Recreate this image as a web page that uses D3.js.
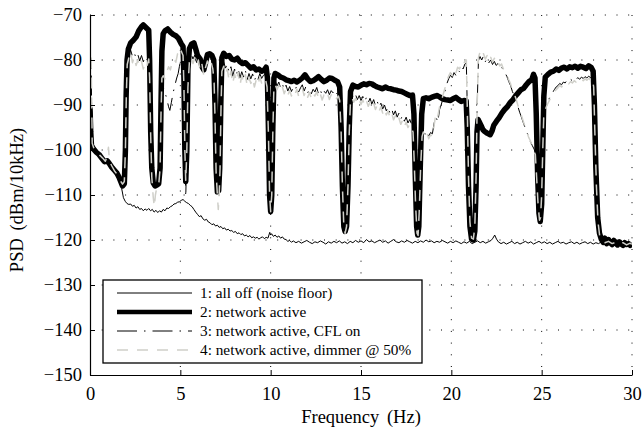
<!DOCTYPE html>
<html>
<head>
<meta charset="utf-8">
<script src="https://cdn.jsdelivr.net/npm/d3@7"></script>
<style>
  body { margin: 0; background: #fff; }
  svg text { font-family: "Liberation Serif", "Times New Roman", Times, serif; fill: #000; }
</style>
</head>
<body>
<div id="chart"></div>
<script>
// PSD traces, [frequency (Hz), PSD (dBm/10kHz)]
noiseFloor = [
  [0,-91.5],[0.03,-96],[0.06,-99.2],[0.15,-99.8],[0.25,-100.4],[0.35,-100.2],[0.45,-101],[0.55,-101.6],[0.65,-101.4],[0.75,-102.3],
  [0.85,-102.8],[0.95,-102.5],[1.05,-103.3],[1.15,-104],[1.25,-104.2],[1.35,-104.9],[1.45,-105.6],[1.55,-106.4],[1.65,-107.2],[1.75,-108.5],
  [1.85,-110.6],[1.95,-111.4],[2.05,-111.9],[2.15,-112.1],[2.25,-112],[2.35,-112.5],[2.45,-112.3],[2.55,-112.9],[2.65,-112.6],[2.75,-113.2],
  [2.85,-113],[2.95,-113.5],[3.05,-113.1],[3.15,-113.4],[3.25,-113],[3.35,-113.5],[3.45,-113.2],[3.55,-113.8],[3.65,-113.4],[3.75,-113.9],
  [3.85,-113.5],[3.95,-113.8],[4.05,-113.2],[4.15,-113.5],[4.25,-112.9],[4.35,-113],[4.45,-112.6],[4.55,-112.4],[4.65,-112],[4.75,-111.9],
  [4.85,-111.6],[4.95,-111.5],[5.05,-111.2],[5.15,-111],[5.25,-111.4],[5.35,-111.7],[5.45,-111.9],[5.55,-112.3],[5.65,-112.6],[5.75,-113.2],
  [5.85,-113.8],[5.95,-114.3],[6.05,-114.8],[6.15,-114.6],[6.25,-115.3],[6.35,-115.6],[6.45,-115.4],[6.55,-116],[6.65,-116.2],[6.75,-116.6],
  [6.85,-116.4],[6.95,-116.9],[7.05,-116.7],[7.15,-117.2],[7.25,-117],[7.35,-117.5],[7.45,-117.3],[7.55,-117.8],[7.65,-117.6],[7.75,-118],
  [7.85,-117.9],[7.95,-118.3],[8.05,-118.1],[8.15,-118.6],[8.25,-118.4],[8.35,-118.8],[8.45,-118.6],[8.55,-119.1],[8.65,-118.9],[8.75,-119.3],
  [8.85,-119],[8.95,-119.5],[9.05,-119.3],[9.15,-119.6],[9.25,-119.4],[9.35,-119.8],[9.45,-119.5],[9.55,-119.3],[9.65,-119.7],[9.75,-119.4],
  [9.85,-119.6],[9.95,-118.3],[10,-118.9],[10.05,-118.6],[10.15,-119.2],[10.25,-118.9],[10.35,-119.4],[10.45,-119.1],[10.55,-119.6],[10.65,-119.3],
  [10.75,-119.8],[10.85,-119.9],[10.95,-120.3],[11.05,-120.1],[11.15,-120.5],[11.25,-120.2],[11.4,-120.6],[11.55,-120.3],[11.7,-120.7],[11.85,-120.4],
  [12,-120.1],[12.15,-120.5],[12.3,-120.8],[12.45,-120.4],[12.6,-120.6],[12.75,-120.2],[12.9,-120.5],[13.05,-120.9],[13.2,-120.4],[13.35,-120.7],
  [13.5,-120.3],[13.65,-120.6],[13.8,-120.2],[13.95,-120.7],[14.1,-120.4],[14.25,-120.8],[14.4,-120.3],[14.55,-120.6],[14.7,-120.1],[14.85,-120.5],
  [15,-120.2],[15.15,-120.6],[15.3,-119.9],[15.45,-120.4],[15.6,-120.2],[15.75,-120.6],[15.9,-120.3],[16.05,-120],[16.2,-120.5],[16.35,-120.2],
  [16.5,-120.7],[16.65,-120.3],[16.8,-119.9],[16.95,-120.4],[17.1,-120.6],[17.25,-120.2],[17.4,-120.5],[17.55,-120.1],[17.7,-120.4],[17.85,-120.7],
  [18,-120.3],[18.15,-120.6],[18.3,-120.2],[18.45,-120.5],[18.6,-120],[18.75,-120.4],[18.9,-120.2],[19.05,-120.6],[19.2,-120.3],[19.35,-120.5],
  [19.5,-120.1],[19.65,-120.4],[19.8,-120.7],[19.95,-120.3],[20.1,-120.6],[20.25,-120.2],[20.4,-120.5],[20.55,-120.8],[20.7,-120.4],[20.85,-120.7],
  [21,-120.3],[21.15,-120.8],[21.3,-120.5],[21.45,-120.2],[21.6,-120.6],[21.75,-120.3],[21.9,-120.7],[22.05,-120.4],[22.2,-120.1],[22.3,-119.6],
  [22.4,-118.9],[22.5,-119.8],[22.6,-120.4],[22.75,-120.8],[22.9,-120.5],[23.05,-120.9],[23.2,-120.6],[23.35,-120.3],[23.5,-120.8],[23.65,-120.5],
  [23.8,-120.9],[23.95,-120.6],[24.1,-120.3],[24.25,-120.7],[24.4,-120.4],[24.55,-120.9],[24.7,-120.6],[24.85,-120.3],[25,-120.7],[25.15,-120.4],
  [25.3,-120.8],[25.45,-120.5],[25.6,-120.9],[25.75,-120.6],[25.9,-120.3],[26.05,-120.7],[26.2,-120.5],[26.35,-120.9],[26.5,-120.6],[26.65,-120.4],
  [26.8,-120.8],[26.95,-120.5],[27.1,-120.9],[27.25,-120.6],[27.4,-120.4],[27.55,-120.8],[27.7,-120.5],[27.85,-120.9],[28,-120.6],[28.15,-120.8],
  [28.3,-120.4],[28.45,-120.9],[28.6,-120.5],[28.75,-120.8],[28.9,-120.6],[29.05,-121],[29.2,-120.7],[29.35,-120.9],[29.5,-120.6],[29.65,-121],
  [29.8,-120.7],[30,-120.9]
];

networkActive = [
  [0,-90.5],[0.04,-96],[0.08,-99],[0.2,-99.8],[0.35,-100.5],[0.5,-101],[0.65,-101.8],[0.8,-102.6],[0.95,-102.4],[1.05,-102.9],
  [1.2,-103.8],[1.35,-104.5],[1.5,-105.2],[1.6,-106],[1.7,-107],[1.8,-108],[1.9,-107.5],[1.96,-100],[2,-88],[2.05,-80],
  [2.12,-77.6],[2.25,-76.2],[2.4,-75.6],[2.55,-74.9],[2.7,-73.5],[2.85,-72.6],[2.95,-72.2],[3.05,-72.6],[3.15,-73],[3.25,-73.4],
  [3.3,-80],[3.36,-96],[3.42,-104],[3.5,-107.3],[3.6,-108],[3.7,-107.8],[3.8,-107.5],[3.88,-104],[3.93,-90],[3.98,-78],
  [4.05,-74.2],[4.15,-73.5],[4.3,-73.1],[4.45,-73.8],[4.6,-74.3],[4.75,-74.6],[4.9,-75.2],[5.05,-76.4],[5.15,-77],[5.2,-84],
  [5.25,-100],[5.3,-107],[5.36,-100],[5.42,-82],[5.5,-77.5],[5.62,-76.5],[5.75,-76.2],[5.85,-77.5],[5.95,-79],[6.1,-79.8],
  [6.2,-81.5],[6.3,-82.2],[6.4,-80.5],[6.5,-78.8],[6.62,-78.6],[6.75,-79],[6.85,-80],[6.92,-90],[6.98,-104],[7.05,-109.3],
  [7.12,-109],[7.18,-104],[7.24,-90],[7.3,-79.5],[7.4,-78.5],[7.55,-79.2],[7.7,-79],[7.85,-79.8],[8,-80],[8.15,-79.6],
  [8.3,-80.4],[8.45,-80.8],[8.6,-80.6],[8.75,-81.2],[8.9,-81.8],[9.05,-81.5],[9.2,-82.2],[9.35,-82],[9.5,-82.5],[9.65,-82.2],
  [9.75,-81.6],[9.82,-84],[9.88,-96],[9.94,-110],[10,-113.7],[10.06,-110],[10.12,-95],[10.18,-84],[10.25,-83],[10.4,-83.3],
  [10.55,-83.8],[10.7,-84],[10.85,-84.4],[11,-84.6],[11.15,-84.8],[11.3,-84.5],[11.45,-84.9],[11.6,-84.5],[11.75,-84],[11.9,-83.3],
  [12.05,-84.2],[12.2,-84.8],[12.35,-84.6],[12.5,-84.2],[12.65,-83.7],[12.8,-84.3],[12.95,-84.8],[13.1,-84.5],[13.25,-84],[13.4,-84.1],
  [13.55,-84.5],[13.7,-84.8],[13.82,-86],[13.9,-95],[13.97,-108],[14.05,-117],[14.12,-118.1],[14.2,-117],[14.28,-108],[14.35,-95],
  [14.42,-87],[14.55,-85.6],[14.7,-85.9],[14.85,-86],[15,-85.6],[15.15,-85.3],[15.3,-85.5],[15.45,-85.2],[15.6,-85.3],[15.75,-85.7],
  [15.9,-86],[16.05,-86.2],[16.2,-86.4],[16.35,-86],[16.5,-86.3],[16.65,-86.4],[16.8,-86.6],[16.95,-86.7],[17.1,-86.9],[17.25,-87],
  [17.4,-87.3],[17.55,-87.6],[17.7,-87.9],[17.85,-87.8],[17.93,-92],[18,-105],[18.08,-117],[18.14,-118.9],[18.2,-117],[18.28,-104],
  [18.36,-92],[18.45,-88.6],[18.6,-88.4],[18.75,-88.6],[18.9,-88.3],[19.05,-88.1],[19.2,-87.9],[19.35,-88.2],[19.5,-88.6],[19.65,-88.8],
  [19.8,-88.9],[19.95,-89],[20.1,-88.6],[20.25,-88.3],[20.4,-88.8],[20.55,-89.2],[20.7,-89],[20.82,-89.1],[20.88,-95],[20.95,-108],
  [21.03,-117],[21.12,-119.8],[21.22,-120],[21.3,-118],[21.37,-108],[21.42,-96],[21.48,-93.2],[21.55,-93.8],[21.65,-94.6],[21.75,-95.5],
  [21.85,-95.9],[22,-96.3],[22.15,-96.6],[22.25,-95.8],[22.35,-94.5],[22.5,-93.6],[22.65,-92.8],[22.8,-91.8],[22.95,-91],[23.1,-90.4],
  [23.25,-89.5],[23.4,-88.9],[23.55,-88],[23.7,-87.3],[23.85,-86.6],[24,-86.3],[24.15,-85.5],[24.3,-84.8],[24.45,-84.4],[24.55,-83.2],
  [24.63,-84],[24.7,-92],[24.78,-106],[24.85,-114],[24.92,-115.9],[25,-112],[25.06,-100],[25.12,-88],[25.2,-83.8],[25.35,-83.2],
  [25.5,-82.7],[25.65,-82.5],[25.8,-82],[25.95,-82.3],[26.1,-81.8],[26.25,-81.6],[26.4,-82],[26.55,-81.5],[26.7,-81.7],[26.85,-81.4],
  [27,-81.8],[27.15,-81.4],[27.3,-81.6],[27.45,-81.9],[27.6,-81.3],[27.75,-81.7],[27.85,-82.5],[27.92,-90],[28,-104],[28.1,-115],
  [28.2,-118.5],[28.3,-119.8],[28.4,-120.5],[28.5,-119.6],[28.6,-120.8],[28.7,-119.9],[28.8,-120.6],[28.9,-121],[29,-120.1],[29.1,-120.7],
  [29.2,-121.1],[29.3,-120.4],[29.4,-120.9],[29.5,-121.2],[29.6,-120.6],[29.7,-121],[29.8,-120.8],[29.9,-121.2],[30,-120.9]
];

cflOn = [
  [0,-84],[0.03,-80],[0.06,-79.8],[0.09,-90],[0.12,-99],[0.25,-99.9],[0.4,-100.7],[0.55,-101.3],[0.7,-101.6],[0.85,-102.6],
  [1,-102.2],[1.1,-103],[1.25,-103.9],[1.4,-104.7],[1.55,-105.6],[1.7,-106.8],[1.82,-108.2],[1.9,-107.2],[1.96,-100],[2.01,-88],
  [2.06,-80.5],[2.15,-78.6],[2.25,-77.8],[2.35,-79.2],[2.45,-78.4],[2.55,-79.6],[2.65,-78.8],[2.75,-80.2],[2.85,-79],[2.95,-80.4],
  [3.05,-79.3],[3.15,-80],[3.25,-78.9],[3.3,-83],[3.36,-96],[3.42,-104],[3.5,-107.6],[3.6,-108.2],[3.7,-108],[3.8,-107.6],
  [3.88,-104],[3.93,-93],[3.98,-87],[4.05,-86],[4.15,-87.2],[4.25,-88.6],[4.35,-90.4],[4.42,-91.2],[4.5,-89.5],[4.6,-87.3],
  [4.7,-85.6],[4.8,-84],[4.88,-83],[4.95,-81.4],[5.05,-79.5],[5.15,-78.6],[5.2,-86],[5.25,-100],[5.3,-110.4],[5.36,-100],
  [5.42,-85],[5.5,-79.4],[5.6,-78.6],[5.7,-79.8],[5.8,-78.9],[5.9,-80.6],[6,-79.6],[6.1,-81.2],[6.2,-80.4],[6.3,-82.6],
  [6.4,-81],[6.5,-79.6],[6.6,-80.4],[6.7,-79.7],[6.8,-81],[6.87,-85],[6.92,-94],[6.98,-105],[7.05,-109.6],[7.12,-109.3],
  [7.18,-104],[7.24,-91],[7.3,-81.5],[7.4,-80.4],[7.5,-81.8],[7.6,-80.9],[7.7,-82.8],[7.8,-81.5],[7.9,-83.6],[8,-82],
  [8.1,-83.4],[8.2,-81.8],[8.3,-84],[8.4,-82.6],[8.5,-83.8],[8.6,-82.3],[8.7,-84.4],[8.8,-83],[8.9,-84.2],[9,-83.1],
  [9.1,-84.7],[9.2,-83.4],[9.3,-84.3],[9.4,-83],[9.5,-84.1],[9.6,-83.4],[9.7,-83.2],[9.8,-85],[9.88,-97],[9.94,-110],
  [10,-114],[10.06,-110],[10.12,-96],[10.18,-85],[10.25,-84.6],[10.35,-85.8],[10.45,-84.9],[10.55,-86.2],[10.65,-85.3],[10.75,-86.6],
  [10.85,-85.6],[10.95,-86.9],[11.05,-85.9],[11.15,-87],[11.25,-86.1],[11.35,-86.7],[11.45,-85.7],[11.55,-87.1],[11.65,-86.2],[11.75,-85.5],
  [11.85,-86.9],[11.95,-85.9],[12.05,-87.3],[12.15,-86.4],[12.25,-87.5],[12.35,-86.5],[12.45,-87.1],[12.55,-86.1],[12.65,-87.6],[12.75,-86.7],
  [12.85,-87.8],[12.95,-86.9],[13.05,-87.4],[13.15,-86.6],[13.25,-87.7],[13.35,-86.8],[13.45,-87.3],[13.55,-86.6],[13.65,-87.5],[13.75,-87],
  [13.82,-88.5],[13.9,-96],[13.97,-108],[14.05,-117],[14.12,-118.3],[14.2,-117],[14.28,-108],[14.35,-96],[14.42,-88.5],[14.5,-87.6],
  [14.6,-88.5],[14.7,-87.7],[14.8,-88.8],[14.9,-87.9],[15,-89],[15.1,-88.1],[15.2,-89.3],[15.3,-88.3],[15.4,-89.5],[15.5,-88.5],
  [15.6,-89.8],[15.7,-88.8],[15.8,-90.2],[15.9,-89.2],[16,-90.5],[16.1,-89.6],[16.2,-90.9],[16.3,-90],[16.4,-91.3],[16.5,-90.4],
  [16.6,-91.8],[16.7,-90.9],[16.8,-92.2],[16.9,-91.3],[17,-92.7],[17.1,-91.8],[17.2,-93.2],[17.3,-92.3],[17.4,-93.6],[17.5,-92.7],
  [17.6,-94],[17.7,-93.2],[17.8,-94.3],[17.88,-95.5],[17.95,-103],[18.02,-112],[18.1,-118.4],[18.16,-118.8],[18.22,-114],[18.3,-104],
  [18.38,-97],[18.45,-95.6],[18.55,-96.5],[18.65,-95.8],[18.75,-96.9],[18.85,-96.1],[18.95,-96.4],[19.05,-94],[19.15,-92.6],[19.25,-93.8],
  [19.35,-91],[19.45,-89.8],[19.55,-88.4],[19.65,-86.9],[19.75,-85.3],[19.85,-84.2],[19.95,-83.4],[20.05,-83.9],[20.15,-82.8],[20.25,-83.4],
  [20.35,-82.2],[20.45,-82.6],[20.55,-81.5],[20.65,-82],[20.75,-80.9],[20.83,-80.6],[20.88,-90],[20.95,-106],[21.03,-116],[21.12,-119.4],
  [21.22,-119.7],[21.3,-117],[21.37,-106],[21.43,-90],[21.5,-80.2],[21.58,-79.2],[21.68,-80],[21.78,-79.1],[21.88,-80.4],[21.98,-79.6],
  [22.08,-80.6],[22.18,-80],[22.28,-81],[22.38,-80.3],[22.48,-81.2],[22.58,-80.8],[22.68,-81.8],[22.78,-81.5],[22.88,-82.4],[22.98,-82.9],
  [23.08,-83.7],[23.18,-84.8],[23.28,-85.7],[23.38,-87],[23.48,-87.9],[23.58,-89],[23.68,-90.3],[23.78,-91.6],[23.88,-92.7],[23.98,-93.9],
  [24.08,-95],[24.18,-96.1],[24.28,-97],[24.38,-98.2],[24.48,-99],[24.58,-99.8],[24.65,-100.6],[24.72,-106],[24.8,-112],[24.88,-115.8],
  [24.94,-115.2],[25,-110],[25.06,-100],[25.12,-91],[25.2,-90.4],[25.3,-89.4],[25.4,-88.7],[25.5,-87.9],[25.6,-87.3],[25.7,-86.6],
  [25.8,-86],[25.9,-85.7],[26,-85.2],[26.1,-85.5],[26.2,-84.9],[26.3,-85.1],[26.4,-84.5],[26.5,-84.8],[26.6,-84.3],[26.7,-84.6],
  [26.8,-84.1],[26.9,-84.4],[27,-83.9],[27.1,-84.3],[27.2,-83.8],[27.3,-84.1],[27.4,-83.7],[27.5,-84],[27.6,-83.6],[27.7,-83.9],
  [27.8,-83.6],[27.88,-86],[27.95,-97],[28.03,-108],[28.12,-116],[28.22,-119.2],[28.35,-120],[28.5,-120.4],[28.7,-120.1],[28.9,-120.6],
  [29.1,-120.3],[29.3,-120.8],[29.5,-120.4],[29.7,-120.9],[29.9,-120.5],[30,-120.8]
];

dimmer50 = [
  [0,-82],[0.03,-79],[0.06,-78.5],[0.09,-88],[0.12,-98.5],[0.25,-100],[0.4,-100.6],[0.55,-101.2],[0.7,-101.8],[0.85,-102.5],
  [0.95,-101.5],[1.02,-99.4],[1.08,-102.5],[1.2,-103.5],[1.35,-104.6],[1.5,-105.4],[1.65,-106.6],[1.8,-107.6],[1.9,-107],[1.96,-100],
  [2.01,-88],[2.06,-81],[2.15,-79.5],[2.25,-78.2],[2.35,-80.6],[2.45,-79.3],[2.55,-81.2],[2.65,-80],[2.75,-81.5],[2.85,-80.3],
  [2.95,-82],[3.05,-80.6],[3.15,-81.4],[3.25,-79.8],[3.3,-84],[3.36,-97],[3.42,-106],[3.5,-110.5],[3.56,-112.6],[3.62,-110],
  [3.7,-108.3],[3.8,-108],[3.88,-104],[3.93,-92],[3.98,-84],[4.05,-83.5],[4.15,-84.2],[4.25,-82.6],[4.35,-81.5],[4.45,-82.2],
  [4.55,-80.3],[4.65,-79.8],[4.75,-80.5],[4.85,-78.6],[4.95,-79.3],[5.05,-78],[5.15,-79],[5.2,-86],[5.25,-100],[5.3,-107],
  [5.36,-100],[5.42,-86],[5.5,-80.5],[5.6,-79.3],[5.7,-80.8],[5.8,-79.5],[5.9,-81.2],[6,-80],[6.1,-82.4],[6.2,-81],
  [6.3,-83.5],[6.4,-81.6],[6.5,-80.2],[6.6,-81.5],[6.7,-80.4],[6.8,-82],[6.87,-85],[6.92,-93],[6.98,-105],[7.05,-110],
  [7.1,-113.2],[7.15,-110],[7.2,-104],[7.25,-91],[7.3,-82.5],[7.4,-81.4],[7.5,-83],[7.6,-82],[7.7,-84.6],[7.8,-82.5],
  [7.9,-85.3],[8,-83.1],[8.1,-84.8],[8.2,-82.7],[8.3,-85.6],[8.4,-83.5],[8.5,-85],[8.6,-83.2],[8.7,-85.8],[8.8,-83.9],
  [8.9,-85.2],[9,-84],[9.1,-86],[9.2,-84.4],[9.3,-85.5],[9.4,-83.8],[9.5,-85.1],[9.6,-84.3],[9.7,-84],[9.8,-86],
  [9.88,-97],[9.94,-110],[10,-113.7],[10.06,-110],[10.12,-96],[10.18,-86],[10.25,-85.4],[10.35,-86.6],[10.45,-85.6],[10.55,-87],
  [10.65,-86],[10.75,-87.5],[10.85,-86.4],[10.95,-87.8],[11.05,-86.8],[11.15,-88],[11.25,-86.9],[11.35,-87.6],[11.45,-86.5],[11.55,-88.1],
  [11.65,-87],[11.75,-86.2],[11.85,-87.9],[11.95,-86.8],[12.05,-88.3],[12.15,-87.2],[12.25,-88.6],[12.35,-87.4],[12.45,-88],[12.55,-87],
  [12.65,-88.7],[12.75,-87.6],[12.85,-88.9],[12.95,-87.8],[13.05,-88.4],[13.15,-87.5],[13.25,-88.8],[13.35,-87.7],[13.45,-88.2],[13.55,-87.6],
  [13.65,-88.6],[13.75,-88],[13.82,-89],[13.9,-96],[13.97,-108],[14.05,-117],[14.12,-118.5],[14.2,-117],[14.28,-108],[14.35,-96],
  [14.42,-89],[14.5,-88.3],[14.6,-89.4],[14.7,-88.5],[14.8,-89.7],[14.9,-88.8],[15,-89.9],[15.1,-88.9],[15.2,-90.1],[15.3,-89],
  [15.4,-90.3],[15.5,-89.3],[15.6,-90.6],[15.7,-89.6],[15.8,-91],[15.9,-90],[16,-91.4],[16.1,-90.4],[16.2,-91.8],[16.3,-90.8],
  [16.4,-92.2],[16.5,-91.3],[16.6,-92.8],[16.7,-91.8],[16.8,-93.3],[16.9,-92.4],[17,-93.8],[17.1,-92.9],[17.2,-94.3],[17.3,-93.4],
  [17.4,-94.8],[17.5,-93.8],[17.6,-95],[17.7,-94.2],[17.8,-95.3],[17.88,-96],[17.95,-103],[18.02,-112],[18.1,-118.5],[18.16,-119],
  [18.22,-114],[18.3,-104],[18.38,-97],[18.45,-96],[18.55,-97.2],[18.65,-96.3],[18.75,-97.5],[18.85,-96.6],[18.95,-97],[19.05,-94.5],
  [19.15,-91.6],[19.25,-92.5],[19.35,-90.4],[19.45,-89.2],[19.55,-87.6],[19.65,-86.2],[19.75,-84.5],[19.85,-83.6],[19.95,-82.8],[20.05,-83.5],
  [20.15,-82.2],[20.25,-82.9],[20.35,-81.6],[20.45,-82],[20.55,-80.9],[20.65,-81.4],[20.75,-80.2],[20.83,-80],[20.88,-90],[20.95,-106],
  [21.03,-116],[21.12,-119.6],[21.22,-119.8],[21.3,-117],[21.37,-106],[21.43,-90],[21.5,-79.5],[21.58,-78.3],[21.68,-79.4],[21.78,-78.6],
  [21.88,-79.8],[21.98,-79],[22.08,-80.2],[22.18,-79.4],[22.28,-80.5],[22.38,-79.6],[22.48,-80.8],[22.58,-80.4],[22.68,-81.3],[22.78,-80.9],
  [22.88,-82],[22.98,-82.6],[23.08,-83.4],[23.18,-84.4],[23.28,-85.3],[23.38,-86.8],[23.48,-87.5],[23.58,-88.6],[23.68,-90],[23.78,-91.2],
  [23.88,-92.3],[23.98,-93.6],[24.08,-94.8],[24.18,-95.9],[24.28,-97.2],[24.38,-98],[24.48,-99.4],[24.58,-100.4],[24.65,-101],[24.72,-106],
  [24.8,-112],[24.88,-115.6],[24.94,-115],[25,-110],[25.06,-100],[25.12,-92],[25.2,-91],[25.3,-90],[25.4,-89.2],[25.5,-88.4],
  [25.6,-87.8],[25.7,-87],[25.8,-86.6],[25.9,-86.2],[26,-85.7],[26.1,-86],[26.2,-85.4],[26.3,-85.6],[26.4,-85],[26.5,-85.3],
  [26.6,-84.8],[26.7,-85.1],[26.8,-84.6],[26.9,-84.9],[27,-84.4],[27.1,-84.8],[27.2,-84.3],[27.3,-84.6],[27.4,-84.2],[27.5,-84.5],
  [27.6,-84.1],[27.7,-84.4],[27.8,-84],[27.88,-86],[27.95,-97],[28.03,-108],[28.12,-116],[28.22,-119.4],[28.35,-120.2],[28.5,-120.6],
  [28.7,-120.3],[28.9,-120.8],[29.1,-120.5],[29.3,-121],[29.5,-120.6],[29.7,-121.1],[29.9,-120.7],[30,-121]
];

xTicks = [0, 5, 10, 15, 20, 25, 30];
yTicks = [-150, -140, -130, -120, -110, -100, -90, -80, -70];
legendLabels = ["1: all off (noise floor)", "2: network active", "3: network active, CFL on", "4: network active, dimmer @ 50%"];

W = 643; H = 431;
margin = {top: 15, right: 11, bottom: 56, left: 90};
width = W - margin.left - margin.right;
height = H - margin.top - margin.bottom;

svg = d3.select("#chart").append("svg")
  .attr("width", W).attr("height", H)
  .append("g")
  .attr("transform", "translate(" + margin.left + "," + margin.top + ")");

x = d3.scaleLinear().domain([0, 30]).range([0, width]);
y = d3.scaleLinear().domain([-150, -70]).range([height, 0]);

// dotted grid
svg.selectAll("line.vgrid").data(xTicks.slice(1)).enter().append("line")
  .attr("x1", function(d){ return x(d); }).attr("x2", function(d){ return x(d); })
  .attr("y1", 0).attr("y2", height)
  .attr("stroke", "#000").attr("stroke-width", 1).attr("stroke-dasharray", "1,10.7");
svg.selectAll("line.hgrid").data(yTicks.slice(1)).enter().append("line")
  .attr("x1", 0).attr("x2", width)
  .attr("y1", function(d){ return y(d); }).attr("y2", function(d){ return y(d); })
  .attr("stroke", "#000").attr("stroke-width", 1).attr("stroke-dasharray", "1,10.7");

svg.append("clipPath").attr("id", "clip").append("rect")
  .attr("x", 0).attr("y", 0).attr("width", width).attr("height", height);

line = d3.line().x(function(d){ return x(d[0]); }).y(function(d){ return y(d[1]); });

series = [
  {data: noiseFloor, color: "#000", w: 1, dash: null},
  {data: networkActive, color: "#000", w: 5.5, dash: null},
  {data: cflOn, color: "#000", w: 1, dash: "20,7,1.5,7"},
  {data: dimmer50, color: "#cfcfc9", w: 1.5, dash: "11,9"}
];

plot = svg.append("g").attr("clip-path", "url(#clip)");
series.forEach(function(s){
  plot.append("path").datum(s.data)
    .attr("d", line)
    .attr("fill", "none")
    .attr("stroke", s.color)
    .attr("stroke-width", s.w)
    .attr("stroke-linejoin", "round")
    .attr("stroke-dasharray", s.dash);
});

// axes, ticks pointing inward
xAxis = svg.append("g").attr("transform", "translate(0," + height + ")")
  .call(d3.axisBottom(x).tickValues(xTicks).tickSize(-5).tickSizeOuter(0).tickPadding(12).tickFormat(d3.format("d")));
yAxis = svg.append("g")
  .call(d3.axisLeft(y).tickValues(yTicks).tickSize(-5).tickSizeOuter(0).tickPadding(8).tickFormat(d3.format("d")));
[xAxis, yAxis].forEach(function(a){
  a.attr("font-family", null);
  a.selectAll("text").style("font-size", "18.5px").attr("fill", "#000");
  a.select(".domain").attr("stroke-width", 1.2);
});

svg.append("text")
  .attr("x", width / 2).attr("y", 408)
  .attr("text-anchor", "middle").style("font-size", "18.5px")
  .style("word-spacing", "3px")
  .text("Frequency (Hz)");
svg.append("text")
  .attr("transform", "translate(" + (23 - margin.left) + "," + (200 - margin.top) + ") rotate(-90)")
  .attr("text-anchor", "middle").style("font-size", "18.5px")
  .style("word-spacing", "3px")
  .text("PSD (dBm/10kHz)");

// legend
lg = svg.append("g").attr("transform", "translate(" + (103 - margin.left) + "," + (280 - margin.top) + ")");
lg.append("rect").attr("width", 319).attr("height", 83)
  .attr("fill", "#fff").attr("stroke", "#000").attr("stroke-width", 1.3);
legendLabels.forEach(function(lbl, i){
  var s = series[i], yy = 13 + i * 19;
  lg.append("line").attr("x1", 14).attr("x2", 89).attr("y1", yy).attr("y2", yy)
    .attr("stroke", s.color).attr("stroke-width", s.w > 2 ? 4.5 : s.w)
    .attr("stroke-dasharray", s.dash);
  lg.append("text").attr("x", 97).attr("y", yy).attr("dy", "0.35em")
    .style("font-size", "15.3px").text(lbl);
});
</script>
</body>
</html>
